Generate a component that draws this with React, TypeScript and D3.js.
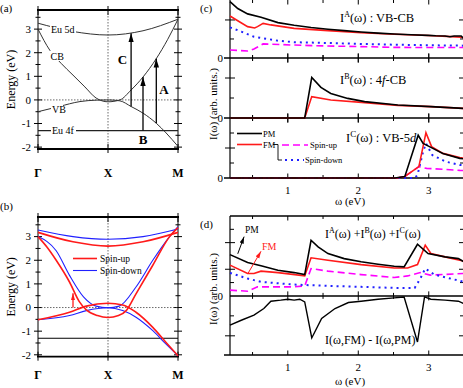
import * as d3 from 'd3';

type P = [number, number];

const SERIF = "'Liberation Serif', 'DejaVu Serif', serif";
const RED = '#ff1a1a';
const BLUE = '#2020ff';
const MAGENTA = '#ff00ff';

// ---------- band structures, k: 0 = Γ, 1 = X, 2 = M ----------
const kNodes = [0, 1, 2];
const kNames = ['Γ', 'X', 'M'];
const energyTicks = [-2, -1, 0, 1, 2, 3];
const energyMinor = [-1.5, -0.5, 0.5, 1.5, 2.5, 3.5];

// (a) paramagnetic
const bandA5d: P[] = [[0, 3.25], [0.5, 2.9], [1, 2.75], [1.5, 2.93], [2, 3.42]];
const bandACB: P[] = [[0, 3.0], [0.17, 2.1], [0.33, 1.55], [0.5, 1.05], [0.67, 0.55], [0.83, 0.08], [1, -0.08], [1.17, 0.0], [1.33, 0.42], [1.5, 0.97], [1.69, 1.75], [1.85, 2.55], [2, 3.42]];
const bandAVB: P[] = [[0, -0.5], [0.3, -0.28], [0.6, -0.07], [0.83, -0.01], [1, 0.0], [1.17, -0.04], [1.33, -0.28], [1.5, -0.56], [1.69, -0.99], [1.83, -1.4], [2, -1.97]];
const eu4f = -1.3;
const transK = [1.33, 1.5, 1.69];
const transFrom = [-0.28, -1.3, -0.99];
const transTo = [2.82, 0.97, 1.75];

// (b) ferromagnetic, spin resolved
const bandUp5d: P[] = [[0, 3.18], [0.5, 2.78], [1, 2.6], [1.5, 2.78], [2, 3.18]];
const bandDn5d: P[] = [[0, 3.28], [0.5, 3.0], [1, 2.89], [1.5, 3.0], [2, 3.32]];
const bandUpCB: P[] = [[0, 3.0], [0.13, 2.55], [0.26, 2.0], [0.45, 1.08], [0.59, 0.25], [0.69, -0.1], [0.85, -0.34], [1, -0.42], [1.15, -0.34], [1.26, -0.13], [1.4, 0.58], [1.64, 1.79], [1.88, 3.0], [2, 3.38]];
const bandDnCB: P[] = [[0, 3.0], [0.26, 2.4], [0.45, 1.36], [0.65, 0.45], [0.83, 0.06], [1, -0.01], [1.16, 0.06], [1.4, 0.87], [1.64, 2.0], [1.88, 3.0], [2, 3.42]];
const bandUpVB: P[] = [[0, -0.52], [0.45, -0.2], [0.69, 0.06], [1, 0.18], [1.21, 0.11], [1.4, -0.2], [1.64, -0.84], [1.83, -1.48], [2, -2.04]];
const bandDnVB: P[] = [[0, -0.52], [0.45, -0.34], [0.69, -0.13], [1, -0.01], [1.21, -0.13], [1.4, -0.41], [1.64, -0.98], [1.83, -1.55], [2, -2.04]];
const spinArrow = { k: 0.5, from: 0, to: 0.6 };

// ---------- spectra, ω in eV ----------
const omegaTicks = [1, 2, 3];
const omegaMinor = [0.5, 1.5, 2.5, 3.5];

const iaPM: P[] = [[0.18, 2.96], [0.29, 2.6], [0.43, 2.32], [0.62, 2.14], [0.86, 1.86], [1.09, 1.72], [1.33, 1.6], [1.57, 1.51], [1.8, 1.44], [2.04, 1.37], [2.28, 1.31], [2.51, 1.26], [2.75, 1.22], [2.99, 1.19], [3.1, 1.17], [3.23, 1.16], [3.3, 1.12], [3.36, 1.16], [3.46, 1.16], [3.5, 1.0]];
const iaFM: P[] = [[0.18, 2.21], [0.29, 1.96], [0.43, 1.65], [0.53, 1.58], [0.57, 1.65], [0.65, 1.82], [0.76, 1.74], [1.09, 1.56], [1.57, 1.44], [2.04, 1.33], [2.51, 1.25], [2.99, 1.18], [3.46, 1.1], [3.5, 1.05]];
const iaUp: P[] = [[0.18, 0.42], [0.43, 0.37], [0.52, 0.47], [0.65, 0.74], [1.09, 0.68], [1.57, 0.63], [2.04, 0.6], [2.51, 0.56], [2.99, 0.55], [3.5, 0.55]];
const iaDn: P[] = [[0.18, 1.61], [0.34, 1.39], [0.52, 1.12], [0.86, 0.91], [1.09, 0.83], [1.57, 0.79], [2.04, 0.74], [2.51, 0.7], [2.99, 0.67], [3.5, 0.65]];

const ibPM: P[] = [[0.18, 0], [1.24, 0], [1.34, 2.03], [1.47, 1.53], [1.61, 1.23], [1.85, 0.98], [2.09, 0.82], [2.56, 0.65], [3.03, 0.57], [3.5, 0.48]];
const ibFM: P[] = [[0.18, 0], [1.24, 0], [1.34, 1.07], [1.61, 0.9], [2.09, 0.77], [2.56, 0.63], [3.03, 0.57], [3.5, 0.48]];

const icPM: P[] = [[0.18, 0], [2.52, 0], [2.66, 0.09], [2.85, 2.85], [2.92, 2.31], [3.01, 2.09], [3.2, 1.64], [3.44, 1.31], [3.5, 1.28]];
const icFM: P[] = [[0.18, 0], [2.55, 0], [2.66, 0.1], [2.86, 0.76], [2.96, 3.02], [3.04, 2.09], [3.2, 1.64], [3.44, 1.36], [3.5, 1.33]];
const icUp: P[] = [[0.18, 0], [2.55, 0], [2.66, 0.1], [2.86, 0.76], [2.97, 0.64], [3.2, 0.58], [3.44, 0.51], [3.5, 0.5]];
const icDn: P[] = [[0.18, 0], [2.8, 0], [2.84, 0.2], [2.92, 1.76], [2.96, 2.31], [3.05, 1.53], [3.24, 1.09], [3.44, 0.87], [3.5, 0.85]];

const totPM: P[] = [[0.18, 3.1], [0.43, 2.5], [0.62, 2.26], [0.86, 1.93], [1.09, 1.75], [1.24, 1.6], [1.33, 4.18], [1.43, 3.68], [1.57, 3.18], [1.8, 2.8], [2.04, 2.56], [2.28, 2.38], [2.51, 2.23], [2.65, 2.18], [2.84, 3.88], [2.99, 3.18], [3.23, 2.93], [3.42, 2.8], [3.5, 2.56]];
const totFM: P[] = [[0.18, 2.31], [0.43, 1.68], [0.52, 1.68], [0.62, 1.86], [0.86, 1.75], [1.24, 1.5], [1.33, 2.86], [1.57, 2.68], [2.04, 2.35], [2.51, 2.1], [2.7, 2.1], [2.84, 2.35], [2.95, 3.81], [3.03, 3.18], [3.23, 2.93], [3.5, 2.6]];
const totUp: P[] = [[0.18, 0.43], [0.43, 0.35], [0.57, 0.68], [1.09, 0.68], [1.24, 0.75], [1.33, 2.05], [1.57, 1.86], [2.04, 1.6], [2.51, 1.38], [2.7, 1.5], [2.88, 1.75], [3.02, 1.56], [3.5, 1.68]];
const totDn: P[] = [[0.18, 1.73], [0.43, 1.3], [0.62, 1.05], [1.09, 0.85], [1.57, 0.75], [2.04, 0.68], [2.51, 0.6], [2.8, 0.6], [2.88, 1.3], [2.95, 2.05], [3.08, 1.6], [3.5, 1.05]];
const diffFMPM: P[] = [[0.18, -2.2], [0.34, -1.83], [0.52, -1.45], [0.66, -0.95], [0.76, -0.4], [0.9, -0.32], [1.0, -0.25], [1.09, -0.32], [1.17, -0.25], [1.24, -0.45], [1.34, -3.16], [1.48, -1.7], [1.67, -0.95], [1.86, -0.5], [2.04, -0.4], [2.28, -0.25], [2.51, -0.15], [2.65, -0.08], [2.84, -3.46], [2.94, -0.08], [3.03, -0.25], [3.23, -0.32], [3.42, -0.4], [3.5, -0.58]];

// ---------- scales ----------
const xk = d3.scaleLinear().domain([0, 2]).range([38, 178]);
const yA = d3.scaleLinear().domain([-2.08, 3.81]).range([149, 10]);
const yBd = d3.scaleLinear().domain([-2.08, 3.83]).range([356.7, 217]);

const xw = d3.scaleLinear().domain([0.18, 3.5]).range([230, 464]);
const yIA = d3.scaleLinear().domain([0, 3.05]).range([58, 0]);
const yIB = d3.scaleLinear().domain([0, 3]).range([118, 58]);
const yIC = d3.scaleLinear().domain([0, 4]).range([178, 118]);
const yTot = d3.scaleLinear().domain([-4.44, 6]).range([355, 216]);

type S = d3.ScaleLinear<number, number>;
const bandPath = (ys: S) => d3.line<P>().x(d => xk(d[0])).y(d => ys(d[1])).curve(d3.curveMonotoneX);
const specPath = (ys: S) => d3.line<P>().x(d => xw(d[0])).y(d => ys(d[1]));

const styles = {
  PM: { stroke: '#000', strokeWidth: 1.6 },
  FM: { stroke: RED, strokeWidth: 1.6 },
  up: { stroke: MAGENTA, strokeWidth: 1.6, strokeDasharray: '7,4' },
  dn: { stroke: BLUE, strokeWidth: 2, strokeDasharray: '2,4' },
};

function BandFrame({ ys, nameY }: { ys: S; nameY: number }) {
  const [x0, x1] = xk.range();
  const [bot, top] = ys.range();
  return (
    <g stroke="#000" fill="none">
      {energyTicks.map(e => (
        <g key={'e' + e}>
          <line x1={x0 - 4} x2={x0 + 4} y1={ys(e)} y2={ys(e)} />
          <line x1={x1 - 4} x2={x1 + 4} y1={ys(e)} y2={ys(e)} />
          <text x={x0 - 7} y={ys(e)} dy="0.35em" textAnchor="end" stroke="none" fill="#000" fontSize={11}>{e}</text>
        </g>
      ))}
      {energyMinor.map(e => (
        <g key={'m' + e}>
          <line x1={x0 - 2.5} x2={x0 + 2.5} y1={ys(e)} y2={ys(e)} />
          <line x1={x1 - 2.5} x2={x1 + 2.5} y1={ys(e)} y2={ys(e)} />
        </g>
      ))}
      {kNodes.map((k, i) => (
        <g key={'k' + k}>
          <line x1={xk(k)} x2={xk(k)} y1={top - 4} y2={top + 5} />
          <line x1={xk(k)} x2={xk(k)} y1={bot - 5} y2={bot + 4} />
          <text x={xk(k)} y={nameY} textAnchor="middle" fontWeight="bold" stroke="none" fill="#000" fontSize={12}>{kNames[i]}</text>
        </g>
      ))}
      <line x1={xk(1)} x2={xk(1)} y1={top} y2={bot} stroke="#444" strokeWidth={0.8} strokeDasharray="1.5,1.5" />
      <line x1={x0} x2={x1} y1={ys(0)} y2={ys(0)} stroke="#444" strokeWidth={0.8} strokeDasharray="1.5,1.5" />
      <line x1={x0} x2={x0} y1={top} y2={bot} />
      <line x1={x1} x2={x1} y1={top} y2={bot} />
      <line x1={x0 - 1} x2={x1 + 1} y1={top} y2={top} strokeWidth={1.8} />
      <line x1={x0 - 1} x2={x1 + 1} y1={bot} y2={bot} strokeWidth={1.8} />
    </g>
  );
}

function SpecFrame({ ys, major, minor, sepTop, sepBottom }: { ys: S; major: number[]; minor: number[]; sepTop: boolean; sepBottom: boolean }) {
  const [x0, x1] = xw.range();
  const [bot, top] = ys.range();
  const xt = (y: number, up: boolean, down: boolean) => (
    <g>
      {omegaTicks.map(w => <line key={'M' + w} x1={xw(w)} x2={xw(w)} y1={up ? y - 4.5 : y} y2={down ? y + 4.5 : y} />)}
      {omegaMinor.map(w => <line key={'m' + w} x1={xw(w)} x2={xw(w)} y1={up ? y - 3 : y} y2={down ? y + 3 : y} />)}
    </g>
  );
  return (
    <g stroke="#000" fill="none">
      {major.map(v => (
        <g key={'M' + v}>
          <line x1={x0 - 5} x2={x0 + 5} y1={ys(v)} y2={ys(v)} />
          <line x1={x1 - 5} x2={x1 + 5} y1={ys(v)} y2={ys(v)} />
        </g>
      ))}
      {minor.map(v => (
        <g key={'m' + v}>
          <line x1={x0} x2={x0 + 4} y1={ys(v)} y2={ys(v)} />
          <line x1={x1 - 4} x2={x1} y1={ys(v)} y2={ys(v)} />
        </g>
      ))}
      {xt(top, sepTop, true)}
      {xt(bot, true, sepBottom)}
      <line x1={x0} x2={x0} y1={top} y2={bot} strokeWidth={1.2} />
      <line x1={x1} x2={x1} y1={top} y2={bot} strokeWidth={1.2} />
      <line x1={x0 - 6} x2={x1} y1={bot} y2={bot} strokeWidth={1.5} />
      <text x={x0 - 7} y={ys(0)} dy="0.35em" textAnchor="end" stroke="none" fill="#000" fontSize={11}>0</text>
    </g>
  );
}

function Series({ data, ys, kind }: { data: P[]; ys: S; kind: keyof typeof styles }) {
  return <path d={specPath(ys)(data) ?? ''} fill="none" {...styles[kind]} />;
}

export default function App() {
  const bandA = bandPath(yA);
  const bandB = bandPath(yBd);
  return (
    <svg width={463} height={388} style={{ position: 'absolute', left: 0, top: 0, background: '#fff', fontFamily: SERIF }}>
      <defs>
        <marker id="hk" viewBox="0 0 10 6" refX={10} refY={3} markerWidth={9} markerHeight={6} markerUnits="userSpaceOnUse" orient="auto">
          <path d="M0,0 L10,3 L0,6 z" fill="#000" />
        </marker>
        <marker id="hks" viewBox="0 0 10 6" refX={10} refY={3} markerWidth={7} markerHeight={5} markerUnits="userSpaceOnUse" orient="auto">
          <path d="M0,0 L10,3 L0,6 z" fill="#000" />
        </marker>
        <marker id="hr" viewBox="0 0 10 6" refX={10} refY={3} markerWidth={7} markerHeight={5} markerUnits="userSpaceOnUse" orient="auto">
          <path d="M0,0 L10,3 L0,6 z" fill={RED} />
        </marker>
      </defs>

      {/* ---------- (a) ---------- */}
      <text x={0} y={12} fontSize={11}>(a)</text>
      <text transform={`translate(11,${(yA.range()[0] + yA.range()[1]) / 2}) rotate(-90)`} textAnchor="middle" dominantBaseline="central" fontSize={12}>Energy (eV)</text>
      <BandFrame ys={yA} nameY={177} />
      <g fill="none" stroke="#333" strokeWidth={1}>
        <path d={bandA(bandA5d) ?? ''} />
        <path d={bandA(bandACB) ?? ''} />
        <path d={bandA(bandAVB) ?? ''} />
      </g>
      <line x1={xk(0)} x2={xk(2)} y1={yA(eu4f)} y2={yA(eu4f)} stroke="#222" strokeWidth={1.4} />
      {transK.map((k, i) => (
        <line key={'tr' + i} x1={xk(k)} x2={xk(k)} y1={yA(transFrom[i])} y2={yA(transTo[i])} stroke="#000" strokeWidth={1.3} markerEnd="url(#hk)" />
      ))}
      <g fontSize={10}>
        <rect x={50} y={24} width={26} height={10} fill="#fff" />
        <text x={51} y={33}>Eu 5d</text>
        <rect x={50} y={51} width={12} height={10} fill="#fff" />
        <text x={50.5} y={60}>CB</text>
        <rect x={51} y={104} width={12} height={10} fill="#fff" />
        <text x={52} y={113}>VB</text>
        <rect x={51} y={126} width={25} height={9} fill="#fff" />
        <text x={52} y={134}>Eu 4f</text>
      </g>
      <g fontSize={13} fontWeight="bold">
        <text x={xk(transK[0]) - 4} y={64} textAnchor="end">C</text>
        <text x={xk(transK[1])} y={144} textAnchor="middle">B</text>
        <text x={xk(transK[2]) + 3} y={94}>A</text>
      </g>

      {/* ---------- (b) ---------- */}
      <text x={0} y={210} fontSize={11}>(b)</text>
      <text transform={`translate(11,${(yBd.range()[0] + yBd.range()[1]) / 2}) rotate(-90)`} textAnchor="middle" dominantBaseline="central" fontSize={12}>Energy (eV)</text>
      <BandFrame ys={yBd} nameY={379} />
      <line x1={xk(0)} x2={xk(2)} y1={yBd(eu4f)} y2={yBd(eu4f)} stroke="#000" strokeWidth={1} />
      <g fill="none" stroke={BLUE} strokeWidth={1.1}>
        <path d={bandB(bandDn5d) ?? ''} />
        <path d={bandB(bandDnCB) ?? ''} />
        <path d={bandB(bandDnVB) ?? ''} />
      </g>
      <g fill="none" stroke={RED} strokeWidth={1.6}>
        <path d={bandB(bandUp5d) ?? ''} />
        <path d={bandB(bandUpCB) ?? ''} />
        <path d={bandB(bandUpVB) ?? ''} />
      </g>
      <line x1={xk(spinArrow.k)} x2={xk(spinArrow.k)} y1={yBd(spinArrow.from)} y2={yBd(spinArrow.to)} stroke={RED} strokeWidth={1.3} markerEnd="url(#hr)" />
      <g fontSize={9.5}>
        <line x1={73} x2={97} y1={258.5} y2={258.5} stroke={RED} strokeWidth={1.6} />
        <text x={100} y={262}>Spin-up</text>
        <line x1={73} x2={97} y1={270.5} y2={270.5} stroke={BLUE} strokeWidth={1.1} />
        <text x={100} y={274}>Spin-down</text>
      </g>

      {/* ---------- (c) ---------- */}
      <text x={200} y={12} fontSize={11}>(c)</text>
      <text transform="translate(212.5,104) rotate(-90)" textAnchor="middle" dominantBaseline="central" fontSize={11}>I(ω) (arb. units.)</text>
      <SpecFrame ys={yIA} major={[2]} minor={[1]} sepTop={false} sepBottom={true} />
      <SpecFrame ys={yIB} major={[2]} minor={[1]} sepTop={true} sepBottom={true} />
      <SpecFrame ys={yIC} major={[2]} minor={[1, 3]} sepTop={true} sepBottom={false} />
      <Series data={iaUp} ys={yIA} kind="up" />
      <Series data={iaDn} ys={yIA} kind="dn" />
      <Series data={iaFM} ys={yIA} kind="FM" />
      <Series data={iaPM} ys={yIA} kind="PM" />
      <Series data={ibFM} ys={yIB} kind="FM" />
      <Series data={ibPM} ys={yIB} kind="PM" />
      <Series data={icUp} ys={yIC} kind="up" />
      <Series data={icDn} ys={yIC} kind="dn" />
      <Series data={icFM} ys={yIC} kind="FM" />
      <Series data={icPM} ys={yIC} kind="PM" />
      <g fontSize={12.5}>
        <text x={340} y={22}>I<tspan fontSize={8} dy={-5}>A</tspan><tspan dy={5}>(ω) : VB-CB</tspan></text>
        <text x={340} y={84}>I<tspan fontSize={8} dy={-5}>B</tspan><tspan dy={5}>(ω) : 4</tspan><tspan fontStyle="italic">f</tspan>-CB</text>
        <text x={346} y={142}>I<tspan fontSize={9} dy={-5}>C</tspan><tspan dy={5}>(ω) : VB-5</tspan><tspan fontStyle="italic">d</tspan></text>
      </g>
      <g fontSize={8.5}>
        <line x1={237} x2={262} y1={133.5} y2={133.5} {...styles.PM} />
        <text x={263} y={136.5}>PM</text>
        <line x1={237} x2={262} y1={144.5} y2={144.5} {...styles.FM} />
        <text x={263} y={147.5}>FM</text>
        <path d="M273,144.5 H278 V160 H282" fill="none" stroke="#000" strokeWidth={0.9} />
        <line x1={282} x2={308} y1={145} y2={145} {...styles.up} />
        <text x={310} y={148}>Spin-up</text>
        <line x1={285} x2={304} y1={160} y2={160} {...styles.dn} />
        <text x={305} y={163}>Spin-down</text>
      </g>
      <g fontSize={11} textAnchor="middle">
        {omegaTicks.map(w => <text key={'c' + w} x={xw(w)} y={194}>{w}</text>)}
        <text x={350} y={205}>ω (eV)</text>
      </g>

      {/* ---------- (d) ---------- */}
      <text x={200} y={228} fontSize={11}>(d)</text>
      <text transform="translate(212.5,289) rotate(-90)" textAnchor="middle" dominantBaseline="central" fontSize={11}>I(ω) (arb. units.)</text>
      <SpecFrame ys={yTot} major={[2, 4, -3]} minor={[1, 5, -1.5]} sepTop={false} sepBottom={false} />
      <line x1={xw.range()[0]} x2={xw.range()[1]} y1={yTot(0)} y2={yTot(0)} stroke="#000" strokeWidth={1.5} />
      <line x1={xw.range()[0]} x2={xw.range()[1]} y1={yTot.range()[1]} y2={yTot.range()[1]} stroke="#000" strokeWidth={1.5} />
      <g stroke="#000">
        {omegaTicks.map(w => <line key={'z' + w} x1={xw(w)} x2={xw(w)} y1={yTot(0) - 4.5} y2={yTot(0) + 4.5} />)}
        {omegaMinor.map(w => <line key={'zm' + w} x1={xw(w)} x2={xw(w)} y1={yTot(0) - 3} y2={yTot(0) + 3} />)}
      </g>
      <Series data={totUp} ys={yTot} kind="up" />
      <Series data={totDn} ys={yTot} kind="dn" />
      <Series data={totFM} ys={yTot} kind="FM" />
      <Series data={totPM} ys={yTot} kind="PM" />
      <path d={specPath(yTot)(diffFMPM) ?? ''} fill="none" stroke="#000" strokeWidth={1.4} />
      <line x1={xw(0.29)} y1={yTot(3.16)} x2={xw(0.38)} y2={yTot(4.45)} stroke="#000" strokeWidth={1} markerEnd="url(#hks)" />
      <line x1={xw(0.435)} y1={yTot(1.69)} x2={xw(0.62)} y2={yTot(3.35)} stroke={RED} strokeWidth={1} markerEnd="url(#hr)" />
      <text x={245} y={233} fontSize={9.5}>PM</text>
      <text x={262} y={250} fontSize={10} fill={RED}>FM</text>
      <g fontSize={12}>
        <text x={325} y={238}>I<tspan fontSize={8} dy={-5}>A</tspan><tspan dy={5}>(ω) +I</tspan><tspan fontSize={8} dy={-5}>B</tspan><tspan dy={5}>(ω) +I</tspan><tspan fontSize={8} dy={-5}>C</tspan><tspan dy={5}>(ω)</tspan></text>
        <text x={325} y={344}>I(ω,FM) - I(ω,PM)</text>
      </g>
      <g fontSize={11} textAnchor="middle">
        {omegaTicks.map(w => <text key={'d' + w} x={xw(w)} y={371}>{w}</text>)}
        <text x={350} y={385}>ω (eV)</text>
      </g>
    </svg>
  );
}
